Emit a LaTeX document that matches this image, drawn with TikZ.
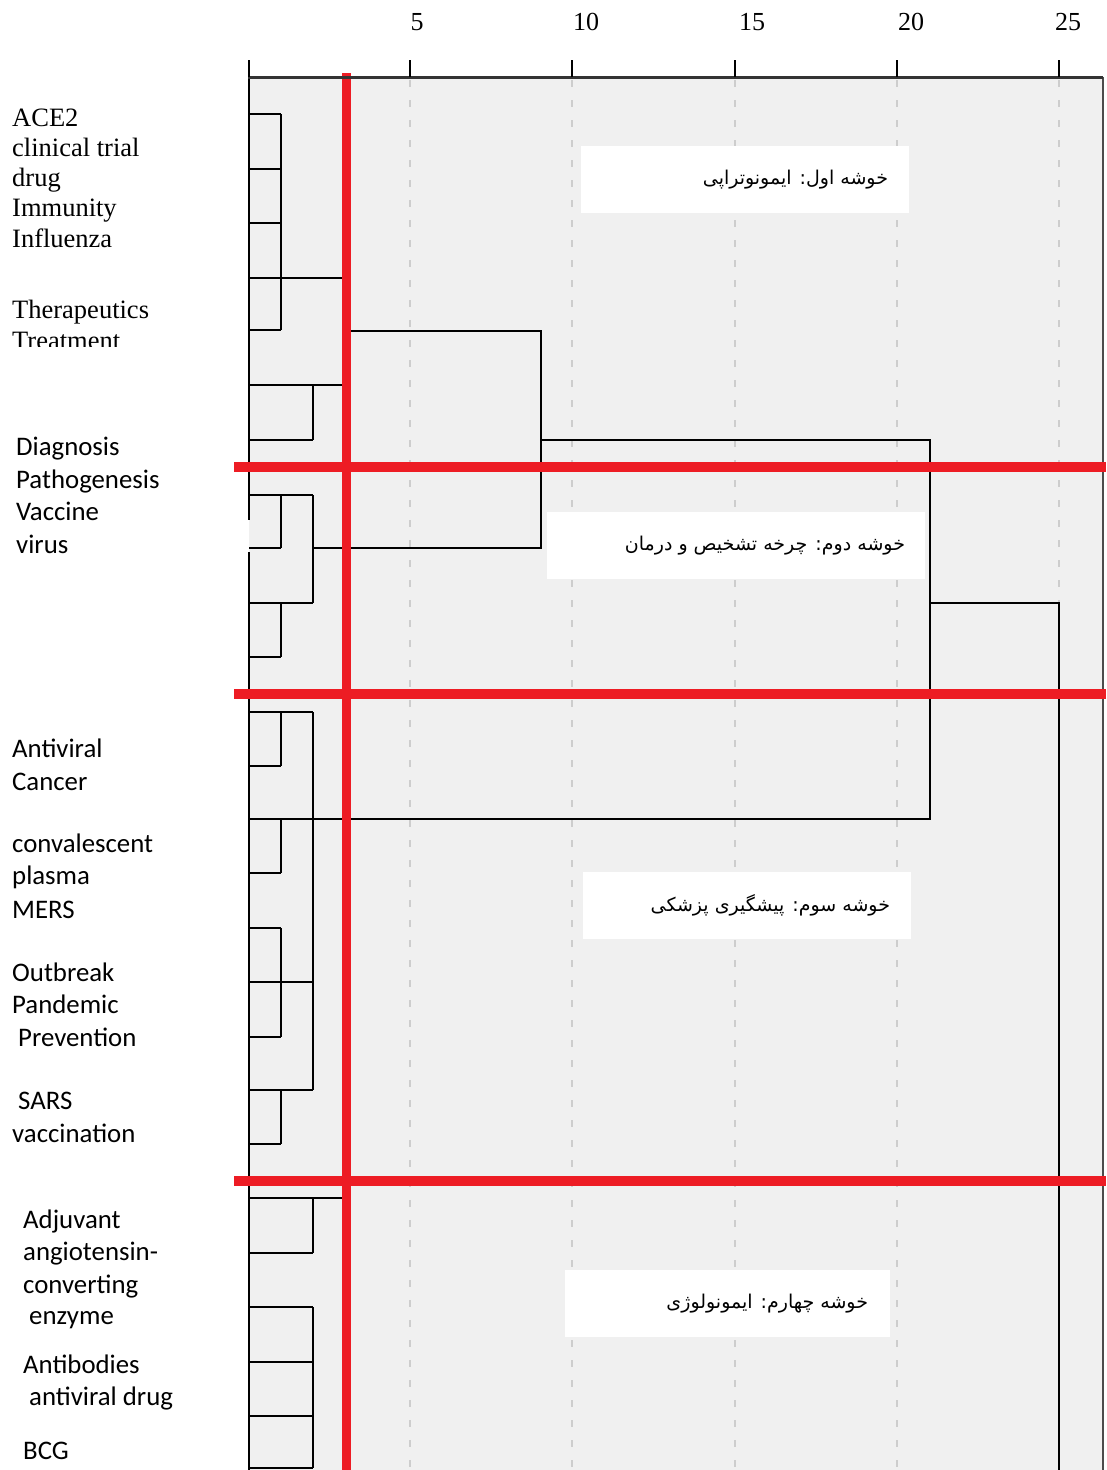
\documentclass[tikz,border=0pt]{standalone}
\usepackage{fontspec}
\setmainfont{Liberation Serif}
\newfontfamily\calibrifont{Carlito}
\newfontfamily\farsifont[Script=Arabic]{DejaVu Sans}
\TeXXeTstate=1
\usepackage{xcolor}
\definecolor{plotgray}{HTML}{F0F0F0}
\definecolor{gridgray}{HTML}{CDCDCD}
\definecolor{cutred}{HTML}{ED1C24}
\usetikzlibrary{positioning}

\begin{document}
\begin{tikzpicture}[x=1pt, y=-1pt,
    link/.style={black, line width=1.6pt},
    gridline/.style={gridgray, line width=1.5pt, dash pattern=on 7pt off 13pt},
    cutline/.style={cutred, line width=10pt},
    serlab/.style={anchor=base west, inner sep=0pt, font=\fontsize{26.5}{30}\selectfont},
    sanslab/.style={anchor=base west, inner sep=0pt, font=\calibrifont\fontsize{26.8}{30}\selectfont},
    clusterbox/.style={fill=white, inner sep=0pt, minimum height=67pt},
    farsilab/.style={inner sep=0pt, font=\farsifont\fontsize{19}{24}\selectfont}]
    \useasboundingbox (0,0) rectangle (1106,1470);

    % plot area and grid
    \fill[plotgray] (249,77) rectangle (1103,1470);
    \draw[black!70, line width=1.2pt] (1103,77) -- (1103,1470);
    \foreach \x in {410,572,735,897,1059}
        \draw[gridline] (\x,80) -- (\x,1470);

    % leaf stubs
    \draw[link] (249,77) -- (249,520) (249,552) -- (249,1470);
    \foreach \y in {114,169,223,330,548,657,766,873,928,1037,1144}
        \draw[link] (249,\y) -- (281,\y);
    \foreach \y in {440,495,603,712,982,1090,1253,1307,1362,1416,1468}
        \draw[link] (249,\y) -- (313,\y);
    \foreach \y in {278,385,1198}
        \draw[link] (249,\y) -- (343,\y);

    % first joins
    \foreach \a/\b in {114/330,495/548,603/657,712/766,819/873,928/1037,1090/1144}
        \draw[link] (281,\a) -- (281,\b);
    \foreach \a/\b in {385/440,495/603,712/1090,1198/1253,1307/1468}
        \draw[link] (313,\a) -- (313,\b);

    % upper joins
    \draw[link] (343,278) -- (343,385);
    \draw[link] (343,331) -- (541,331) -- (541,548) -- (313,548);
    \draw[link] (541,440) -- (930,440) -- (930,819) -- (249,819);
    \draw[link] (930,603) -- (1059,603) -- (1059,1470);

    % cluster captions
    \node[clusterbox, minimum width=328pt] (boxone) at (745,179.5) {};
    \node[farsilab, left=21pt of boxone.east] (capone) {\beginR خوشه اول: ایمونوتراپی\endR};
    \node[clusterbox, minimum width=378pt] (boxtwo) at (736,545.5) {};
    \node[farsilab, left=20pt of boxtwo.east] (captwo) {\beginR خوشه دوم: چرخه تشخیص و درمان\endR};
    \node[clusterbox, minimum width=328pt] (boxthree) at (747,905.5) {};
    \node[farsilab, left=21pt of boxthree.east] (capthree) {\beginR خوشه سوم: پیشگیری پزشکی\endR};
    \node[clusterbox, minimum width=325pt] (boxfour) at (727.5,1303.5) {};
    \node[farsilab, left=22pt of boxfour.east] (capfour) {\beginR خوشه چهارم: ایمونولوژی\endR};

    % cut lines
    \foreach \y in {467,694,1181}
        \draw[cutline] (234,\y) -- (1106,\y);
    \draw[cutred, line width=9pt] (346,73) -- (346,1470);

    % distance axis
    \draw[black!80, line width=3pt] (248,77) -- (1103,77);
    \foreach \x in {249,410,572,735,897,1059}
        \draw[link] (\x,60) -- (\x,77);
    \foreach \x/\n in {417/5,586/10,752/15,911/20,1068/25}
        \node[anchor=base, inner sep=0pt, font=\fontsize{26}{30}\selectfont] (tick\n) at (\x,30.5) {\n};

    % keyword labels
    \node[serlab] (acetwo) at (12,126) {ACE2};
    \node[serlab] (clinical) at (12,156) {clinical trial};
    \node[serlab] (drug) at (12,186) {drug};
    \node[serlab] (immunity) at (12,216) {Immunity};
    \node[serlab] (influenza) at (12,247) {Influenza};
    \node[serlab] (therapeutics) at (12,318) {Therapeutics};
    \begin{scope}
        \clip (0,0) rectangle (240,346);
        \node[serlab] (treatment) at (12,349) {Treatment};
    \end{scope}
    \node[sanslab] (diagnosis) at (16,455) {Diagnosis};
    \node[sanslab] (pathogenesis) at (16,488) {Pathogenesis};
    \node[sanslab] (vaccine) at (16,520) {Vaccine};
    \node[sanslab] (virus) at (16,553) {virus};
    \node[sanslab] (antiviral) at (12,757) {Antiviral};
    \node[sanslab] (cancer) at (12,790) {Cancer};
    \node[sanslab] (convalescent) at (12,852) {convalescent};
    \node[sanslab] (plasma) at (12,884) {plasma};
    \node[sanslab] (mers) at (12,918) {MERS};
    \node[sanslab] (outbreak) at (12,981) {Outbreak};
    \node[sanslab] (pandemic) at (12,1013) {Pandemic};
    \node[sanslab] (prevention) at (18,1046) {Prevention};
    \node[sanslab] (sars) at (18,1109) {SARS};
    \node[sanslab] (vaccination) at (12,1142) {vaccination};
    \node[sanslab] (adjuvant) at (23,1228) {Adjuvant};
    \node[sanslab] (angio) at (23,1260) {angiotensin-};
    \node[sanslab] (converting) at (23,1293) {converting};
    \node[sanslab] (enzyme) at (29,1324) {enzyme};
    \node[sanslab] (antibodies) at (23,1373) {Antibodies};
    \node[sanslab] (avdrug) at (29,1405) {antiviral drug};
    \node[sanslab] (bcg) at (23,1459) {BCG};
\end{tikzpicture}
\end{document}
